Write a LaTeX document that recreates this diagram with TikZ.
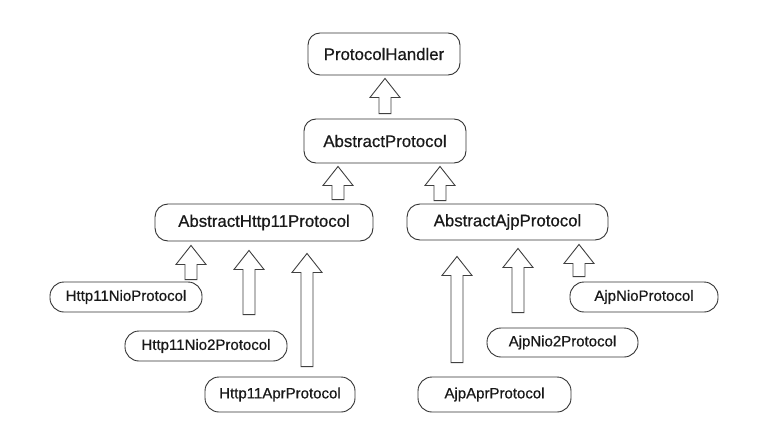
\documentclass[tikz,border=0pt]{standalone}
\usepackage{fontspec}
\setmainfont{Liberation Sans}[RawFeature={embolden=0.6}]
\usetikzlibrary{calc}
\newcommand\hollowarrow[2]{%
  \path[harrow] let \p1=(#1), \p2=(#2) in
    (\x1-6pt,\y2) -- (\x1-6pt,\y1-19pt) -- (\x1-15pt,\y1-19pt) -- (\x1,\y1)
    -- (\x1+15pt,\y1-19pt) -- (\x1+6pt,\y1-19pt) -- (\x1+6pt,\y2) -- cycle;}
\begin{document}
\begin{tikzpicture}[x=1pt,y=-1pt,
  box/.style={draw=black!80, line width=0.9pt, rounded corners=13pt, inner sep=0pt, align=center, text=black!90},
  big/.style={box, font=\fontsize{16.8}{18}\selectfont},
  small/.style={box, rounded corners=14pt, font=\fontsize{15}{17}\selectfont},
  harrow/.style={draw=black!75, line width=0.9pt, fill=white, line join=miter}]
\useasboundingbox[fill=white] (0,0) rectangle (776,444);

\node[big, minimum width=152pt, minimum height=42pt, rounded corners=12pt] (PH) at (384,54) {ProtocolHandler};
\node[big, minimum width=162pt, minimum height=44pt, rounded corners=12pt] (AP) at (385,141) {AbstractProtocol};
\node[big, minimum width=218pt, minimum height=37pt] (AH) at (264,222.5) {AbstractHttp11Protocol};
\node[big, minimum width=201pt, minimum height=36pt] (AA) at (507.5,222) {AbstractAjpProtocol};

\node[small, minimum width=152pt, minimum height=30pt] (H1) at (126,297) {Http11NioProtocol};
\node[small, minimum width=162pt, minimum height=30pt] (H2) at (206,346) {Http11Nio2Protocol};
\node[small, minimum width=150pt, minimum height=35pt] (H3) at (280,394.5) {Http11AprProtocol};
\node[small, minimum width=148pt, minimum height=30pt] (A1) at (644,297) {AjpNioProtocol};
\node[small, minimum width=151pt, minimum height=29pt] (A2) at (562.5,342.5) {AjpNio2Protocol};
\node[small, minimum width=153pt, minimum height=35pt] (A3) at (494.5,394.5) {AjpAprProtocol};

% free ends of the arrows that stop short of their boxes
\coordinate (H2end) at ([xshift=43pt,yshift=16pt]H2.north);
\coordinate (H3end) at ([xshift=27pt,yshift=10pt]H3.north);
\coordinate (A2end) at ([xshift=-44.5pt,yshift=15pt]A2.north);
\coordinate (A3end) at ([xshift=-37.5pt,yshift=14pt]A3.north);

\hollowarrow{[xshift=1pt,yshift=-3pt]PH.south}{[yshift=5pt]AP.north}
\hollowarrow{[xshift=-47pt,yshift=-3pt]AP.south}{[xshift=74pt,yshift=4pt]AH.north}
\hollowarrow{[xshift=55pt,yshift=-3pt]AP.south}{[xshift=-67.5pt,yshift=3pt]AA.north}

\hollowarrow{[xshift=-73pt,yshift=-4pt]AH.south}{[xshift=65pt,yshift=2pt]H1.north}
\hollowarrow{[xshift=-15pt,yshift=-9pt]AH.south}{H2end}
\hollowarrow{[xshift=43pt,yshift=-12pt]AH.south}{H3end}

\hollowarrow{[xshift=71.5pt,yshift=-4pt]AA.south}{[xshift=-65pt,yshift=5pt]A1.north}
\hollowarrow{[xshift=10.5pt,yshift=-8pt]AA.south}{A2end}
\hollowarrow{[xshift=-50.5pt,yshift=-16pt]AA.south}{A3end}
\end{tikzpicture}
\end{document}
